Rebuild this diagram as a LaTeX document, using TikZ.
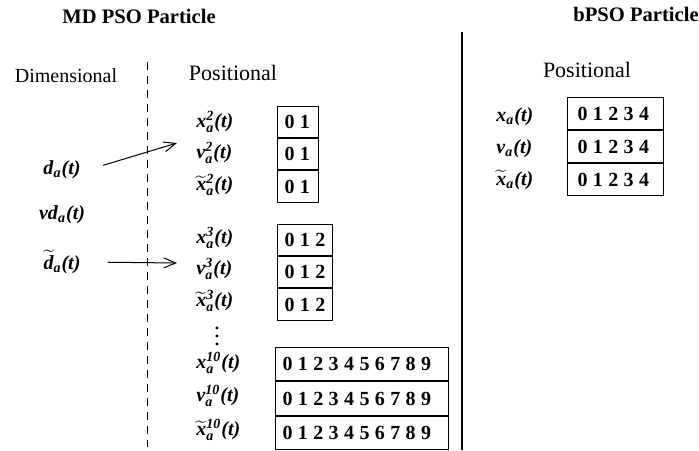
\documentclass[tikz,border=0pt]{standalone}
\usepackage{amsmath}
\usepackage{fontspec}
\setmainfont{Liberation Serif}
\usetikzlibrary{arrows.meta,positioning}
\newcommand{\bi}[1]{\textbf{\textit{#1}}}
\newcommand{\pvar}[2]{\bi{#1}$^{\bi{#2}}_{\bi{a}}$\bi{(t)}}
\newcommand{\svar}[1]{\bi{#1}$_{\bi{a}}$\bi{(t)}}
\newcommand{\tilx}{$\widetilde{\bi{x}}$}
\newcommand{\digs}[1]{\mbox{\foreach \dg [count=\dn] in {0,...,#1}{\ifnum\dn>1\hspace{2.7pt}\fi\dg}}}
\begin{document}
\begin{tikzpicture}[x=0.5pt,y=-0.5pt, every node/.style={font=\fontsize{10}{12}\selectfont}, title/.style={font=\fontsize{10.3}{12}\selectfont\bfseries}, lab/.style={anchor=west,inner sep=0pt}, cell/.style={draw,line width=0.5pt,font=\fontsize{10}{12}\selectfont\bfseries,minimum height=15.6pt,inner xsep=3.5pt,inner ysep=0pt,text width=#1,align=left}, >={Straight Barb[length=6pt,width=5pt]}]
\useasboundingbox (0,0) rectangle (699,450);
% headings
\node[title] (mdt) at (139,16) {MD PSO Particle};
\node[title] (bt) at (636,14) {bPSO Particle};
\node (dimh) at (66,76) {Dimensional};
\node[font=\fontsize{11}{13}\selectfont] (posh) at (233,73) {Positional};
\node[font=\fontsize{11}{13}\selectfont] (posr) at (587,70) {Positional};
\draw[line width=0.6pt] (462,32) -- (462,450);
\draw[line width=0.5pt,dash pattern=on 4pt off 3pt] (147,62) -- (147,447);
% dimensional part
\node (da) at (62,170) {\svar{d}};
\node (vda) at (62,215) {\svar{vd}};
\node (dta) at (62,262) {\svar{$\widetilde{\bi{d}}$}};
\coordinate (e1) at (177,143);
\coordinate (e2) at (177,263);
\draw[->,line width=0.5pt,shorten <=8pt] (da.east) -- (e1);
\draw[->,line width=0.5pt,shorten <=10pt] (dta.east) -- (e2);
% positional part, 2 dims
\node[cell=13.5pt,anchor=north west] (c2x) at (277,106) {\digs{1}};
\node[cell=13.5pt,below=0pt of c2x] (c2v) {\digs{1}};
\node[cell=13.5pt,below=0pt of c2v] (c2p) {\digs{1}};
\node[lab] (x2) at (196,122) {\pvar{x}{2}};
\node[lab] (v2) at (196,153) {\pvar{v}{2}};
\node[lab] (p2) at (196,185) {\pvar{\tilx}{2}};
% 3 dims
\node[cell=20.5pt,anchor=north west] (c3x) at (277,224) {\digs{2}};
\node[cell=20.5pt,below=0pt of c3x] (c3v) {\digs{2}};
\node[cell=20.5pt,below=0pt of c3v] (c3p) {\digs{2}};
\node[lab] (x3) at (196,238) {\pvar{x}{3}};
\node[lab] (v3) at (196,269) {\pvar{v}{3}};
\node[lab] (p3) at (196,301) {\pvar{\tilx}{3}};
\node[font=\fontsize{12}{14}\selectfont] (dots) at (217,330) {$\vdots$};
% 10 dims
\node[cell=79.5pt,minimum height=16.7pt,anchor=north west] (c10x) at (275,347) {\digs{9}};
\node[cell=79.5pt,minimum height=16.7pt,below=0pt of c10x] (c10v) {\digs{9}};
\node[cell=79.5pt,minimum height=16.7pt,below=0pt of c10v] (c10p) {\digs{9}};
\node[lab] (x10) at (196,363) {\pvar{x}{10}};
\node[lab] (v10) at (196,396) {\pvar{v}{10}};
\node[lab] (p10) at (196,430) {\pvar{\tilx}{10}};
% bPSO particle
\node[cell=38pt,inner xsep=5pt,minimum height=16pt,anchor=north west] (cbx) at (567,97) {\digs{4}};
\node[cell=38pt,inner xsep=5pt,minimum height=16pt,below=0pt of cbx] (cbv) {\digs{4}};
\node[cell=38pt,inner xsep=5pt,minimum height=16pt,below=0pt of cbv] (cbp) {\digs{4}};
\node[lab] (xb) at (496,117) {\svar{x}};
\node[lab] (vb) at (496,149) {\svar{v}};
\node[lab] (pb) at (496,180) {\svar{\tilx}};
\end{tikzpicture}
\end{document}
